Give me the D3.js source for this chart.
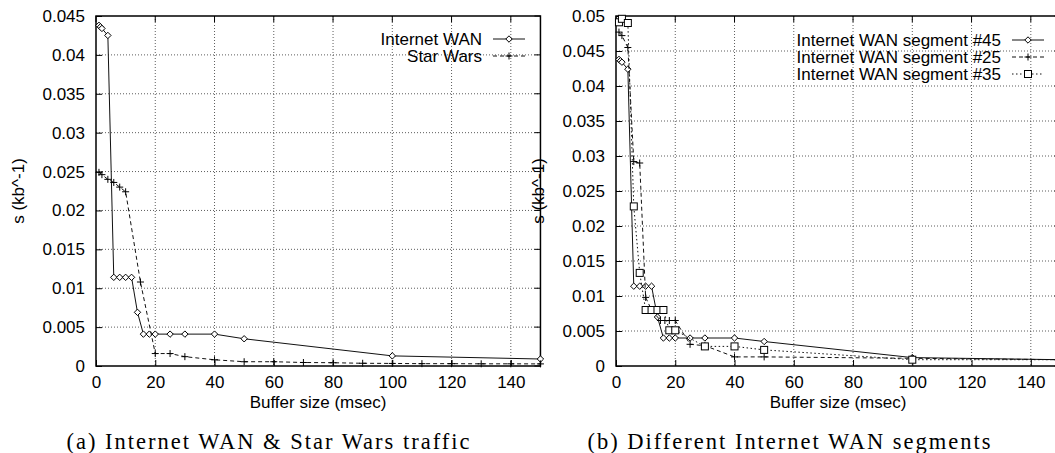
<!DOCTYPE html>
<html>
<head>
<meta charset="utf-8">
<script src="https://cdn.jsdelivr.net/npm/d3@7"></script>
<style>
  body { margin: 0; background: #fff; }
  svg text { font-family: "Liberation Sans", Arial, sans-serif; font-size: 17px; fill: #000; }
  svg text.cap { font-family: "Liberation Serif", "Times New Roman", serif; font-size: 22.5px; }
</style>
</head>
<body>
<svg width="1055" height="453"></svg>
<script>
// left panel (a)
const wanX = [1, 1.5, 2, 4, 6, 8, 10, 12, 14, 16, 18, 20, 25, 30, 40, 50, 100, 150];
const wanY = [0.0438, 0.0436, 0.0434, 0.0425, 0.0114, 0.0114, 0.0114, 0.0114, 0.0069, 0.0041, 0.0041, 0.0041, 0.0041, 0.0041, 0.0041, 0.0035, 0.0013, 0.0009];
const swX = [1, 2, 4, 6, 8, 10, 15, 20, 25, 30, 40, 50, 60, 70, 80, 90, 100, 110, 120, 130, 140, 150];
const swY = [0.0249, 0.0246, 0.0240, 0.0236, 0.0230, 0.0224, 0.0108, 0.0016, 0.0016, 0.0012, 0.0008, 0.00055, 0.00055, 0.00045, 0.00042, 0.00035, 0.00033, 0.0003, 0.0003, 0.00028, 0.00028, 0.00027];

// right panel (b)
const s45X = [1, 1.5, 2, 4, 6, 8, 10, 12, 14, 16, 18, 20, 25, 30, 40, 50, 100, 150];
const s45Y = [0.0438, 0.0436, 0.0434, 0.0424, 0.0114, 0.0114, 0.0114, 0.0114, 0.0070, 0.0040, 0.0040, 0.0040, 0.0040, 0.0040, 0.0040, 0.0035, 0.0012, 0.0009];
const s25X = [1, 2, 4, 6, 8, 10, 12, 15, 16.5, 18, 20, 25, 30, 40, 50, 100, 150];
const s25Y = [0.0477, 0.0472, 0.0455, 0.0292, 0.0290, 0.0098, 0.0080, 0.0065, 0.0065, 0.0065, 0.0065, 0.0031, 0.0029, 0.0013, 0.0013, 0.0011, 0.0009];
const s35X = [1, 2, 4, 6, 8, 10, 12, 14, 16, 18, 20, 30, 40, 50, 100, 150];
const s35Y = [0.0491, 0.0496, 0.0490, 0.0228, 0.0133, 0.0080, 0.0080, 0.0080, 0.0080, 0.0051, 0.0051, 0.0028, 0.0028, 0.0023, 0.0009, 0.0009];

const xTicks = [0, 20, 40, 60, 80, 100, 120, 140];
const yTicksL = [0, 0.005, 0.01, 0.015, 0.02, 0.025, 0.03, 0.035, 0.04, 0.045];
const yTicksR = [0, 0.005, 0.01, 0.015, 0.02, 0.025, 0.03, 0.035, 0.04, 0.045, 0.05];

const xLabel = "Buffer size (msec)";
const yLabel = "s (kb^-1)";
const captionA = "(a) Internet WAN & Star Wars traffic";
const captionB = "(b) Different Internet WAN segments";

const sv = d3.select("svg");

const styles = {
  diamond: { dash: null },
  plus: { dash: "4,3" },
  square: { dash: "1.5,2.5" }
};

function marker(g, kind, x, y) {
  if (kind == "diamond") {
    g.append("path").attr("d", `M${x},${y - 3.2}L${x + 3.2},${y}L${x},${y + 3.2}L${x - 3.2},${y}Z`)
      .attr("fill", "#fff").attr("stroke", "#000").attr("stroke-width", 1);
  } else if (kind == "plus") {
    g.append("path").attr("d", `M${x - 3.5},${y}H${x + 3.5}M${x},${y - 3.5}V${y + 3.5}`)
      .attr("stroke", "#000").attr("stroke-width", 1);
  } else {
    g.append("rect").attr("x", x - 3.5).attr("y", y - 3.5).attr("width", 7).attr("height", 7)
      .attr("fill", "#fff").attr("stroke", "#000").attr("stroke-width", 1);
  }
}

function panel(opt) {
  const x = d3.scaleLinear().domain([0, 150]).range([opt.left, opt.left + 150 * 2.963]);
  const y = d3.scaleLinear().domain([0, opt.ymax]).range([366, 16]);
  const g = sv.append("g");
  const x0 = x.range()[0], x1 = x.range()[1];

  // grid
  g.selectAll(".gx").data(xTicks.filter(d => d > 0)).enter().append("line")
    .attr("x1", d => x(d)).attr("x2", d => x(d)).attr("y1", 16).attr("y2", 366)
    .attr("stroke", "#333").attr("stroke-width", 0.8).attr("stroke-dasharray", "1,2");
  g.selectAll(".gy").data(opt.yTicks.filter(d => d > 0 && d < opt.ymax)).enter().append("line")
    .attr("x1", x0).attr("x2", x1).attr("y1", d => y(d)).attr("y2", d => y(d))
    .attr("stroke", "#333").attr("stroke-width", 0.8).attr("stroke-dasharray", "1,2");

  // axes (gnuplot style inward ticks)
  const ax = g.append("g").attr("transform", "translate(0,366)")
    .call(d3.axisBottom(x).tickValues(xTicks).tickSizeInner(-6).tickSizeOuter(0).tickPadding(12));
  ax.select(".domain").remove();
  ax.selectAll("text").attr("font-size", null).attr("font-family", null).attr("dy", "0.6em");
  ax.selectAll("line").attr("stroke-width", 1);

  const ay = g.append("g").attr("transform", `translate(${x0},0)`)
    .call(d3.axisLeft(y).tickValues(opt.yTicks).tickFormat(d3.format("~g")).tickSizeInner(-6).tickSizeOuter(0).tickPadding(11));
  ay.select(".domain").remove();
  ay.selectAll("text").attr("font-size", null).attr("font-family", null);

  // mirrored ticks
  g.selectAll(".tt").data(xTicks).enter().append("line")
    .attr("x1", d => x(d)).attr("x2", d => x(d)).attr("y1", 16).attr("y2", 22).attr("stroke", "#000");
  g.selectAll(".tr").data(opt.yTicks).enter().append("line")
    .attr("x1", x1).attr("x2", x1 - 6).attr("y1", d => y(d)).attr("y2", d => y(d)).attr("stroke", "#000");

  // frame
  g.append("rect").attr("x", x0).attr("y", 16).attr("width", x1 - x0).attr("height", 350)
    .attr("fill", "none").attr("stroke", "#000").attr("stroke-width", 1.5);

  // series
  const ln = d3.line().x(d => x(d[0])).y(d => y(d[1]));
  opt.series.forEach(function (s) {
    const pts = s.xs.map((v, i) => [v, s.ys[i]]);
    g.append("path").attr("d", ln(pts)).attr("fill", "none").attr("stroke", "#111")
      .attr("stroke-width", 1).attr("stroke-dasharray", styles[s.kind].dash);
    const mg = g.append("g");
    pts.forEach(p => marker(mg, s.kind, x(p[0]), y(p[1])));
  });

  // legend
  opt.series.forEach(function (s, i) {
    const ly = opt.legY + i * 17;
    g.append("text").attr("x", opt.legX).attr("y", ly).attr("dy", "0.35em")
      .attr("text-anchor", "end").text(s.name);
    g.append("line").attr("x1", opt.legX + 11).attr("x2", opt.legX + 43).attr("y1", ly).attr("y2", ly)
      .attr("stroke", "#111").attr("stroke-dasharray", styles[s.kind].dash);
    marker(g, s.kind, opt.legX + 27, ly);
  });

  // labels
  g.append("text").attr("x", opt.xlabX).attr("y", 402).attr("dy", "0.35em")
    .attr("text-anchor", "middle").text(xLabel);
  g.append("text").attr("transform", `translate(${opt.ylabX},191) rotate(-90)`).attr("dy", "0.35em")
    .attr("text-anchor", "middle").text(yLabel);
  g.append("text").attr("class", "cap").attr("x", opt.capX).attr("y", 441).attr("dy", "0.35em")
    .attr("text-anchor", "middle").attr("textLength", 403).attr("lengthAdjust", "spacing").text(opt.caption);
}

panel({
  left: 96, ymax: 0.045, yTicks: yTicksL,
  series: [
    { name: "Internet WAN", xs: wanX, ys: wanY, kind: "diamond" },
    { name: "Star Wars", xs: swX, ys: swY, kind: "plus" }
  ],
  legX: 482, legY: 39, ylabX: 18, xlabX: 318, capX: 268, caption: captionA
});

panel({
  left: 616, ymax: 0.05, yTicks: yTicksR,
  series: [
    { name: "Internet WAN segment #45", xs: s45X, ys: s45Y, kind: "diamond" },
    { name: "Internet WAN segment #25", xs: s25X, ys: s25Y, kind: "plus" },
    { name: "Internet WAN segment #35", xs: s35X, ys: s35Y, kind: "square" }
  ],
  legX: 1001, legY: 40, ylabX: 538, xlabX: 838, capX: 789, caption: captionB
});
</script>
</body>
</html>
